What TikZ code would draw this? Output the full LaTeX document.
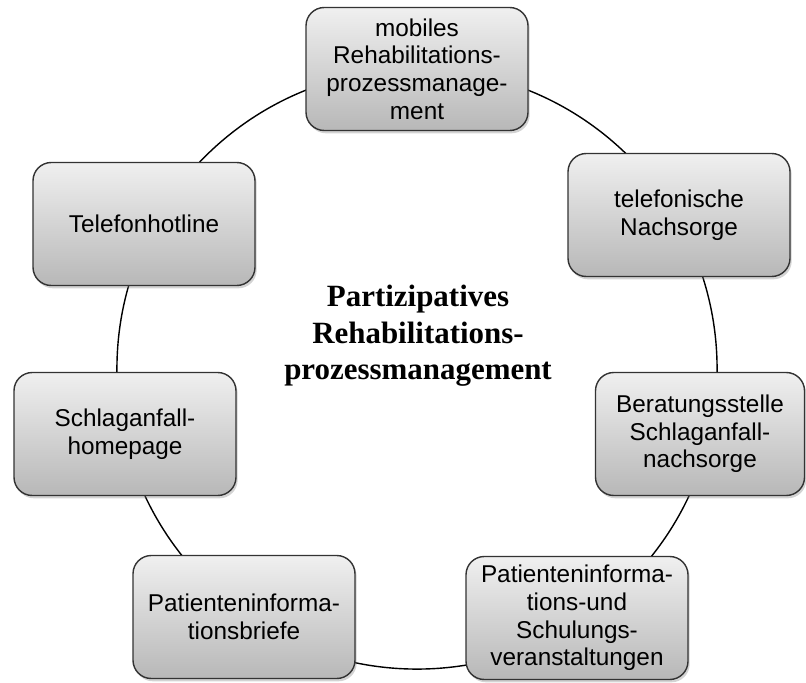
\documentclass[tikz,border=0pt]{standalone}
\usepackage{fontspec}
\setmainfont{Liberation Serif}
\setsansfont{Liberation Sans}
\usetikzlibrary{shadows}

\begin{document}
\begin{tikzpicture}[x=0.025cm,y=-0.025cm,
  baustein/.style={draw=black!80,line width=1pt,rounded corners=13pt,
    top color=black!6,bottom color=black!28,
    drop shadow={shadow xshift=1.2pt,shadow yshift=-2pt,opacity=0.35},
    minimum width=222*0.025cm,minimum height=123*0.025cm,inner sep=2pt,
    align=center,font=\sffamily\fontsize{17.3}{19.6}\selectfont},
  kreis/.style={draw=black,line width=1pt}]
\useasboundingbox (0,0) rectangle (806,682);
\coordinate (mitte) at (417,369);
\draw[kreis] (mitte) circle[radius=7.5cm];
% Bausteine rund um den Kreis
\node[baustein] (mobil) at (417,69) {mobiles\\Rehabilitations-\\prozessmanage-\\ment};
\node[baustein] (telNach) at (679,215) {telefonische\\Nachsorge};
\node[baustein,minimum width=209*0.025cm] (berat) at (700,434) {Beratungsstelle\\Schlaganfall-\\nachsorge};
\node[baustein] (schulung) at (577,618) {Patienteninforma-\\tions-und\\Schulungs-\\veranstaltungen};
\node[baustein] (briefe) at (244,617) {Patienteninforma-\\tionsbriefe};
\node[baustein] (homepage) at (125,434) {Schlaganfall-\\homepage};
\node[baustein] (hotline) at (144,224) {Telefonhotline};
\node[align=center,font=\bfseries\fontsize{22}{26}\selectfont] (titel) at (418,336)
  {Partizipatives\\Rehabilitations-\\prozessmanagement};
\end{tikzpicture}
\end{document}
